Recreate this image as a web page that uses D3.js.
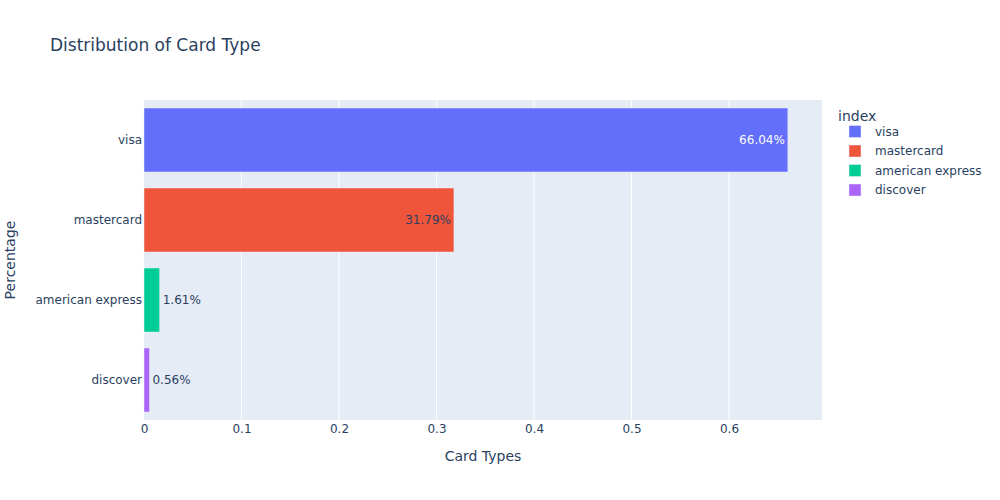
<!DOCTYPE html>
<html>
<head>
<meta charset="utf-8">
<script src="https://cdn.jsdelivr.net/npm/d3@7"></script>
<style>
  body { margin: 0; background: #fff; }
  svg text { font-family: "DejaVu Sans", verdana, sans-serif; }
</style>
</head>
<body>
<script>
// data
let cardTypes = ["visa", "mastercard", "american express", "discover"];
let shares = [0.6604, 0.3179, 0.0161, 0.0056];
let colors = ["#636efa", "#EF553B", "#00cc96", "#ab63fa"];
let xTicks = [0, 0.1, 0.2, 0.3, 0.4, 0.5, 0.6];

let width = 1000, height = 500;
let margin = {top: 100, right: 178, bottom: 80, left: 144};
let plotW = width - margin.left - margin.right,
    plotH = height - margin.top - margin.bottom;

let ink = "#2a3f5f";

let svg = d3.select("body")
            .append("svg")
            .attr("width", width)
            .attr("height", height);

svg.append("text")
    .attr("x", 50).attr("y", 51)
    .attr("font-size", 17)
    .attr("fill", ink)
    .text("Distribution of Card Type");

let g = svg.append("g")
    .attr("transform", `translate(${margin.left}, ${margin.top})`);

g.append("rect")
    .attr("width", plotW).attr("height", plotH)
    .attr("fill", "#E5ECF6");

let xScale = d3.scaleLinear()
    .domain([0, 0.6954])
    .range([0, plotW]);

let yScale = d3.scaleBand()
    .domain(cardTypes)
    .range([0, plotH])
    .paddingInner(0.2)
    .paddingOuter(0.1);

// grid
g.selectAll("line.grid")
    .data(xTicks.slice(1))
    .enter()
    .append("line")
        .attr("class", "grid")
        .attr("x1", d => xScale(d)).attr("x2", d => xScale(d))
        .attr("y1", 0).attr("y2", plotH)
        .attr("stroke", "#fff").attr("stroke-width", 1);

// axes
let xAxis = d3.axisBottom(xScale).tickValues(xTicks).tickSize(0).tickPadding(4)
    .tickFormat(d => d === 0 ? "0" : d3.format(".1f")(d));
let xg = g.append("g")
    .attr("transform", `translate(0, ${plotH})`)
    .call(xAxis);
xg.select(".domain").remove();
xg.selectAll("text").attr("font-size", 12).attr("fill", ink)
    .style("font-family", '"DejaVu Sans", verdana, sans-serif');

let yAxis = d3.axisLeft(yScale).tickSize(0).tickPadding(2);
let yg = g.append("g").call(yAxis);
yg.select(".domain").remove();
yg.selectAll("text").attr("font-size", 12).attr("fill", ink)
    .style("font-family", '"DejaVu Sans", verdana, sans-serif');

// bars
g.selectAll("rect.bar")
    .data(cardTypes)
    .enter()
    .append("rect")
        .attr("class", "bar")
        .attr("x", xScale(0))
        .attr("y", d => yScale(d))
        .attr("width", (d, i) => xScale(shares[i]) - xScale(0))
        .attr("height", yScale.bandwidth())
        .attr("fill", (d, i) => colors[i])
        .attr("stroke", "#E5ECF6")
        .attr("stroke-width", 0.5);

// bar labels: inside when the bar is wide enough, outside otherwise
g.selectAll("text.lbl")
    .data(cardTypes)
    .enter()
    .append("text")
        .attr("class", "lbl")
        .attr("font-size", 12)
        .attr("dy", "0.35em")
        .attr("y", d => yScale(d) + yScale.bandwidth() / 2)
        .attr("x", (d, i) => shares[i] > 0.1 ? xScale(shares[i]) - 3 : xScale(shares[i]) + 3)
        .attr("text-anchor", (d, i) => shares[i] > 0.1 ? "end" : "start")
        .attr("fill", (d, i) => i === 0 ? "#fff" : ink)
        .text((d, i) => (shares[i] * 100).toFixed(2) + "%");

// axis titles
svg.append("text")
    .attr("x", margin.left + plotW / 2).attr("y", 461)
    .attr("text-anchor", "middle")
    .attr("font-size", 14).attr("fill", ink)
    .text("Card Types");

svg.append("text")
    .attr("transform", `translate(15, ${margin.top + plotH / 2}) rotate(-90)`)
    .attr("text-anchor", "middle")
    .attr("font-size", 14).attr("fill", ink)
    .text("Percentage");

// legend
let legend = svg.append("g").attr("transform", "translate(838, 0)");
legend.append("text")
    .attr("x", 0).attr("y", 121)
    .attr("font-size", 14).attr("fill", ink)
    .text("index");

let items = legend.selectAll("g.item")
    .data(cardTypes)
    .enter()
    .append("g")
        .attr("class", "item")
        .attr("transform", (d, i) => `translate(0, ${131.5 + i * 19.5})`);

items.append("rect")
    .attr("x", 11).attr("y", -6)
    .attr("width", 12).attr("height", 12)
    .attr("fill", (d, i) => colors[i])
    .attr("stroke", "#E5ECF6").attr("stroke-width", 0.5);

items.append("text")
    .attr("x", 37).attr("dy", "0.35em")
    .attr("font-size", 12).attr("fill", ink)
    .text(d => d);
</script>
</body>
</html>
